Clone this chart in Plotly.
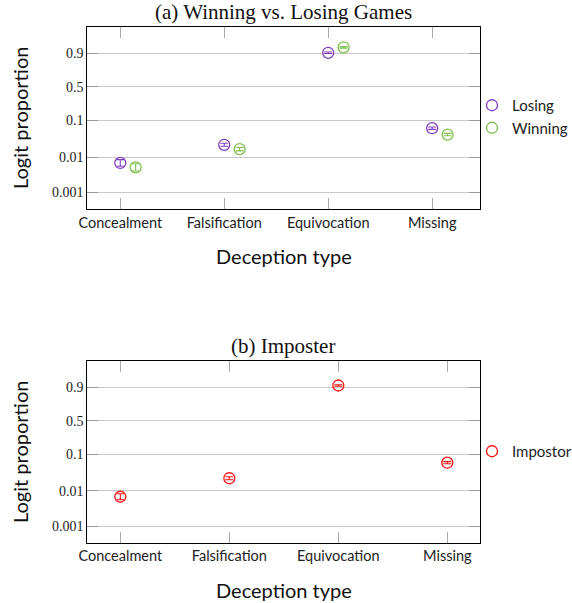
import numpy as np
import plotly.graph_objects as go

# Deception categories and estimated proportions
categories = ["Concealment", "Falsification", "Equivocation", "Missing"]
losing = [0.0068, 0.022, 0.903, 0.0625]
winning = [0.0051, 0.0166, 0.93, 0.042]
impostor = [0.0068, 0.0225, 0.91, 0.060]

# Error half-widths (in logit units)
losing_err = [0.22, 0.10, 0.05, 0.08]
winning_err = [0.24, 0.11, 0.05, 0.08]
impostor_err = [0.20, 0.10, 0.05, 0.07]

ytick_props = [0.001, 0.01, 0.1, 0.5, 0.9]
ytick_text = ["0.001", "0.01", "0.1", "0.5", "0.9"]

PURPLE = "#8040c0"
GREEN = "#80c050"
RED = "#ff1010"


def logit(p):
    p = np.asarray(p, dtype=float)
    return np.log(p / (1 - p))


W, H = 572, 603
pos = np.arange(len(categories))

fig = go.Figure()


def add_series(name, props, errs, xs, color, xa, ya, legend):
    fig.add_trace(go.Scatter(
        x=xs, y=logit(props), mode="markers", name=name,
        xaxis=xa, yaxis=ya, legend=legend,
        marker=dict(symbol="circle-open", size=11, color=color,
                    line=dict(width=1.3, color=color)),
        error_y=dict(type="data", array=errs, visible=True,
                     color=color, thickness=1.1, width=4),
    ))


add_series("Losing", losing, losing_err, pos, PURPLE, "x", "y", "legend")
add_series("Winning", winning, winning_err, pos + 0.148, GREEN, "x", "y", "legend")
add_series("Impostor", impostor, impostor_err, pos, RED, "x2", "y2", "legend2")


def px_x(v):
    return v / W


def px_y(v):
    return 1 - v / H


tick_font = dict(family="Lato, Open Sans, sans-serif", size=14.5, color="#222")
ytick_font = dict(family="Liberation Serif, serif", size=14, color="#222")
legend_font = dict(family="Lato, Open Sans, sans-serif", size=15, color="#222")

common_x = dict(
    tickmode="array", tickvals=list(pos), ticktext=categories,
    showline=True, linecolor="black", linewidth=1.2, mirror="all",
    ticks="inside", ticklen=11, tickcolor="#aaaaaa", tickwidth=1.3,
    showgrid=False, zeroline=False, tickfont=tick_font, automargin=False,
)
common_y = dict(
    tickmode="array", tickvals=list(logit(ytick_props)), ticktext=ytick_text,
    range=[-8.0, 3.94],
    showline=True, linecolor="black", linewidth=1.2, mirror="all",
    ticks="inside", ticklen=11, tickcolor="#999999", tickwidth=1.3,
    showgrid=True, gridcolor="#c8c8c8", gridwidth=1.2,
    zeroline=False, tickfont=ytick_font, automargin=False,
)

fig.update_layout(
    width=W, height=H,
    margin=dict(l=0, r=0, t=0, b=0, autoexpand=False),
    paper_bgcolor="white", plot_bgcolor="white",
    xaxis=dict(common_x, domain=[px_x(87.3), px_x(480)], range=[-0.317, 3.46],
               anchor="y"),
    yaxis=dict(common_y, domain=[px_y(209), px_y(26.7)], anchor="x"),
    xaxis2=dict(common_x, domain=[px_x(87.3), px_x(480)], range=[-0.303, 3.30],
                anchor="y2"),
    yaxis2=dict(common_y, domain=[px_y(542.7), px_y(360.7)], anchor="x2"),
    legend=dict(x=px_x(472), y=px_y(89), xanchor="left", yanchor="top",
                font=legend_font, bgcolor="rgba(0,0,0,0)",
                itemwidth=30, tracegroupgap=0),
    legend2=dict(x=px_x(472), y=px_y(435), xanchor="left", yanchor="top",
                 font=legend_font, bgcolor="rgba(0,0,0,0)", itemwidth=30),
    showlegend=True,
)

title_font = dict(family="Liberation Serif, serif", size=21, color="#111")
label_font = dict(family="Lato, Open Sans, sans-serif", size=20, color="#111")

annotations = [
    dict(text="(a) Winning vs. Losing Games", x=px_x(283), y=px_y(12),
         font=title_font),
    dict(text="(b) Imposter", x=px_x(283), y=px_y(346), font=title_font),
    dict(text="Deception type", x=px_x(284), y=px_y(256), font=label_font),
    dict(text="Deception type", x=px_x(284), y=px_y(590), font=label_font),
    dict(text="Logit proportion", x=px_x(20), y=px_y(118), font=label_font,
         textangle=-90),
    dict(text="Logit proportion", x=px_x(20), y=px_y(452), font=label_font,
         textangle=-90),
]
for a in annotations:
    fig.add_annotation(xref="paper", yref="paper", showarrow=False,
                       xanchor="center", yanchor="middle", **a)

fig.write_html("out.html")
